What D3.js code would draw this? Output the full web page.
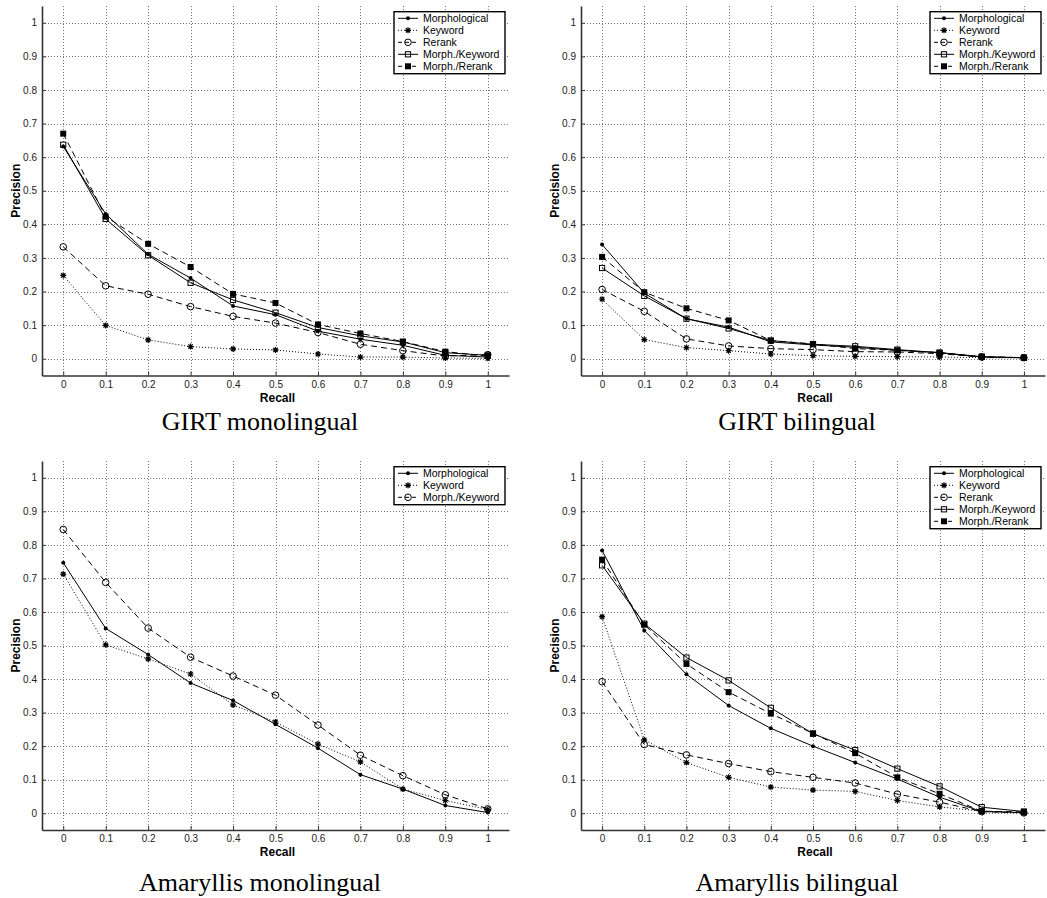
<!DOCTYPE html>
<html>
<head>
<meta charset="utf-8">
<script src="https://cdn.jsdelivr.net/npm/d3@7"></script>
<style>
  body { margin: 0; background: #fff; }
  text { font-family: "Liberation Sans", Arial, sans-serif; }
</style>
</head>
<body>
<script>
var W = 1047, H = 898;

// recall levels and tick labels
var recall = [0, 0.1, 0.2, 0.3, 0.4, 0.5, 0.6, 0.7, 0.8, 0.9, 1];
var yTicks = [0, 0.1, 0.2, 0.3, 0.4, 0.5, 0.6, 0.7, 0.8, 0.9, 1];

// GIRT monolingual
var girtMonoMorph   = [0.632, 0.431, 0.311, 0.240, 0.157, 0.131, 0.082, 0.058, 0.040, 0.010, 0.005];
var girtMonoKeyword = [0.248, 0.099, 0.056, 0.036, 0.029, 0.026, 0.014, 0.005, 0.005, 0.002, 0.001];
var girtMonoRerank  = [0.333, 0.217, 0.192, 0.155, 0.126, 0.106, 0.078, 0.043, 0.024, 0.008, 0.012];
var girtMonoMK      = [0.637, 0.416, 0.308, 0.226, 0.175, 0.137, 0.093, 0.068, 0.050, 0.018, 0.010];
var girtMonoMR      = [0.670, 0.423, 0.342, 0.273, 0.193, 0.166, 0.102, 0.075, 0.051, 0.021, 0.008];

// GIRT bilingual
var girtBiMorph   = [0.340, 0.195, 0.119, 0.094, 0.050, 0.041, 0.034, 0.025, 0.018, 0.005, 0.003];
var girtBiKeyword = [0.177, 0.057, 0.033, 0.024, 0.014, 0.009, 0.007, 0.006, 0.005, 0.003, 0.002];
var girtBiRerank  = [0.206, 0.141, 0.059, 0.038, 0.030, 0.027, 0.021, 0.020, 0.015, 0.005, 0.003];
var girtBiMK      = [0.270, 0.187, 0.119, 0.090, 0.054, 0.043, 0.037, 0.027, 0.018, 0.006, 0.003];
var girtBiMR      = [0.303, 0.198, 0.150, 0.114, 0.054, 0.044, 0.030, 0.025, 0.018, 0.006, 0.003];

// Amaryllis monolingual
var amaMonoMorph   = [0.747, 0.551, 0.473, 0.388, 0.336, 0.265, 0.194, 0.115, 0.072, 0.023, 0.002];
var amaMonoKeyword = [0.713, 0.502, 0.460, 0.415, 0.323, 0.272, 0.206, 0.153, 0.072, 0.038, 0.011];
var amaMonoMK      = [0.846, 0.688, 0.552, 0.465, 0.409, 0.352, 0.263, 0.173, 0.112, 0.055, 0.013];

// Amaryllis bilingual
var amaBiMorph   = [0.783, 0.545, 0.414, 0.321, 0.253, 0.200, 0.151, 0.102, 0.048, 0.005, 0.002];
var amaBiKeyword = [0.586, 0.219, 0.151, 0.107, 0.078, 0.069, 0.065, 0.038, 0.019, 0.006, 0.001];
var amaBiRerank  = [0.392, 0.205, 0.174, 0.148, 0.124, 0.107, 0.090, 0.057, 0.033, 0.005, 0.001];
var amaBiMK      = [0.739, 0.565, 0.464, 0.396, 0.314, 0.237, 0.188, 0.133, 0.080, 0.018, 0.005];
var amaBiMR      = [0.756, 0.562, 0.445, 0.361, 0.297, 0.238, 0.179, 0.107, 0.058, 0.006, 0.004];

// line style + marker for each kind of curve
var styles = {
  solidDot:    { dash: null,    marker: "dot" },
  dottedStar:  { dash: "1,2",   marker: "star" },
  dashCircle:  { dash: "6,4",   marker: "circle" },
  solidSquare: { dash: null,    marker: "square" },
  dashFilled:  { dash: "6,4",   marker: "filledSquare" }
};

var panels = [
  { title: "GIRT monolingual", box: [42, 509, 6, 375.5], titleX: 260, titleY: 430,
    series: [
      { name: "Morphological",  values: girtMonoMorph,   style: "solidDot" },
      { name: "Keyword",        values: girtMonoKeyword, style: "dottedStar" },
      { name: "Rerank",         values: girtMonoRerank,  style: "dashCircle" },
      { name: "Morph./Keyword", values: girtMonoMK,      style: "solidSquare" },
      { name: "Morph./Rerank",  values: girtMonoMR,      style: "dashFilled" }
    ] },
  { title: "GIRT bilingual", box: [581, 1045, 6, 375.5], titleX: 797, titleY: 430,
    series: [
      { name: "Morphological",  values: girtBiMorph,   style: "solidDot" },
      { name: "Keyword",        values: girtBiKeyword, style: "dottedStar" },
      { name: "Rerank",         values: girtBiRerank,  style: "dashCircle" },
      { name: "Morph./Keyword", values: girtBiMK,      style: "solidSquare" },
      { name: "Morph./Rerank",  values: girtBiMR,      style: "dashFilled" }
    ] },
  { title: "Amaryllis monolingual", box: [42, 509, 461, 830], titleX: 260, titleY: 891,
    series: [
      { name: "Morphological",  values: amaMonoMorph,   style: "solidDot" },
      { name: "Keyword",        values: amaMonoKeyword, style: "dottedStar" },
      { name: "Morph./Keyword", values: amaMonoMK,      style: "dashCircle" }
    ] },
  { title: "Amaryllis bilingual", box: [581, 1045, 461, 830], titleX: 797, titleY: 891,
    series: [
      { name: "Morphological",  values: amaBiMorph,   style: "solidDot" },
      { name: "Keyword",        values: amaBiKeyword, style: "dottedStar" },
      { name: "Rerank",         values: amaBiRerank,  style: "dashCircle" },
      { name: "Morph./Keyword", values: amaBiMK,      style: "solidSquare" },
      { name: "Morph./Rerank",  values: amaBiMR,      style: "dashFilled" }
    ] }
];

var fmt = function(d) { return (d === 0 || d === 1) ? String(d) : d.toFixed(1); };

var svg = d3.select("body").append("svg")
  .attr("width", W)
  .attr("height", H);

function drawMarker(g, type, cx, cy) {
  if (type === "dot") {
    g.append("circle").attr("cx", cx).attr("cy", cy).attr("r", 2).attr("fill", "#000");
  } else if (type === "star") {
    var a = 3, b = 2.2;
    g.append("path")
      .attr("d", "M" + (cx - a) + "," + cy + "L" + (cx + a) + "," + cy +
                 "M" + cx + "," + (cy - a) + "L" + cx + "," + (cy + a) +
                 "M" + (cx - b) + "," + (cy - b) + "L" + (cx + b) + "," + (cy + b) +
                 "M" + (cx - b) + "," + (cy + b) + "L" + (cx + b) + "," + (cy - b))
      .attr("stroke", "#000").attr("stroke-width", 1.2).attr("fill", "none");
  } else if (type === "circle") {
    g.append("circle").attr("cx", cx).attr("cy", cy).attr("r", 3.3)
      .attr("fill", "none").attr("stroke", "#000").attr("stroke-width", 1);
  } else if (type === "square") {
    g.append("rect").attr("x", cx - 2.6).attr("y", cy - 2.6).attr("width", 5.2).attr("height", 5.2)
      .attr("fill", "none").attr("stroke", "#000").attr("stroke-width", 1);
  } else if (type === "filledSquare") {
    g.append("rect").attr("x", cx - 3).attr("y", cy - 3).attr("width", 6).attr("height", 6)
      .attr("fill", "#000");
  }
}

panels.forEach(function(p) {
  var left = p.box[0], right = p.box[1], top = p.box[2], bottom = p.box[3];

  var x = d3.scaleLinear().domain([-0.05, 1.05]).range([left, right]);
  var y = d3.scaleLinear().domain([-0.05, 1.05]).range([bottom, top]);

  var g = svg.append("g");

  // dotted grid
  g.selectAll(".vgrid").data(recall).enter().append("line")
    .attr("x1", function(d) { return Math.round(x(d)) + 0.5; })
    .attr("x2", function(d) { return Math.round(x(d)) + 0.5; })
    .attr("y1", top).attr("y2", bottom)
    .attr("stroke", "#777").attr("stroke-width", 1).attr("stroke-dasharray", "1,2");
  g.selectAll(".hgrid").data(yTicks).enter().append("line")
    .attr("y1", function(d) { return Math.round(y(d)) + 0.5; })
    .attr("y2", function(d) { return Math.round(y(d)) + 0.5; })
    .attr("x1", left).attr("x2", right)
    .attr("stroke", "#777").attr("stroke-width", 1).attr("stroke-dasharray", "1,2");

  // axes, ticks pointing inward
  var xAxis = d3.axisBottom(x).tickValues(recall).tickFormat(fmt).tickSizeInner(-4).tickSizeOuter(0).tickPadding(5);
  var yAxis = d3.axisLeft(y).tickValues(yTicks).tickFormat(fmt).tickSizeInner(-4).tickSizeOuter(0).tickPadding(5);

  var gx = g.append("g").attr("transform", "translate(0," + bottom + ")").call(xAxis);
  var gy = g.append("g").attr("transform", "translate(" + left + ",0)").call(yAxis);
  [gx, gy].forEach(function(a) {
    a.select(".domain").attr("stroke", "#333").attr("stroke-width", 1.6);
    a.selectAll(".tick line").attr("stroke", "#333");
    a.selectAll(".tick text").attr("fill", "#222").style("font-size", "10px")
      .style("font-family", "'Liberation Sans', Arial, sans-serif");
  });

  // axis labels
  g.append("text")
    .attr("x", (left + right) / 2 + 2).attr("y", bottom + 26)
    .attr("text-anchor", "middle").attr("font-weight", "bold").attr("font-size", 12)
    .text("Recall");
  g.append("text")
    .attr("transform", "translate(" + (left - 22) + "," + ((top + bottom) / 2) + ") rotate(-90)")
    .attr("text-anchor", "middle").attr("font-weight", "bold").attr("font-size", 12)
    .text("Precision");

  // curves
  p.series.forEach(function(s) {
    var st = styles[s.style];
    var line = d3.line()
      .x(function(d, i) { return x(recall[i]); })
      .y(function(d) { return y(d); });
    g.append("path")
      .datum(s.values)
      .attr("d", line)
      .attr("fill", "none")
      .attr("stroke", "#000")
      .attr("stroke-width", 1)
      .attr("stroke-dasharray", st.dash);
    var mg = g.append("g");
    s.values.forEach(function(v, i) { drawMarker(mg, st.marker, x(recall[i]), y(v)); });
  });

  // legend
  var n = p.series.length;
  var lw = 111, lh = n * 12 + 2;
  var lx = right - 4 - lw, ly = top + 5.7;
  var lg = g.append("g");
  lg.append("rect").attr("x", lx).attr("y", ly).attr("width", lw).attr("height", lh)
    .attr("fill", "#fff").attr("stroke", "#000").attr("stroke-width", 1.4);
  p.series.forEach(function(s, i) {
    var st = styles[s.style];
    var cy = ly + 6.6 + i * 12;
    lg.append("line").attr("x1", lx + 4).attr("x2", lx + 24).attr("y1", cy).attr("y2", cy)
      .attr("stroke", "#000").attr("stroke-width", 1).attr("stroke-dasharray", st.dash ? (st.dash === "1,2" ? "1,2" : "4,3") : null);
    drawMarker(lg, st.marker, lx + 14, cy);
    lg.append("text").attr("x", lx + 29).attr("y", cy + 3.7)
      .attr("font-size", 10.5).attr("fill", "#000")
      .text(s.name);
  });

  // caption
  g.append("text")
    .attr("x", p.titleX).attr("y", p.titleY)
    .attr("text-anchor", "middle")
    .style("font-family", "'Liberation Serif', 'Times New Roman', serif")
    .style("font-size", "26px")
    .text(p.title);
});
</script>
</body>
</html>
